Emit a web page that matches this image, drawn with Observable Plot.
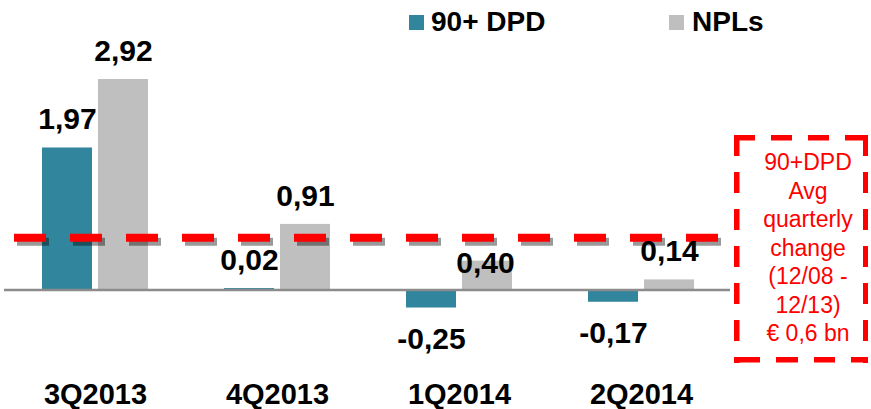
<!DOCTYPE html>
<html>
<head>
<meta charset="utf-8">
<script src="https://cdn.jsdelivr.net/npm/d3@7"></script>
<script src="https://cdn.jsdelivr.net/npm/@observablehq/plot@0.6"></script>
<style>
  html, body { margin: 0; padding: 0; background: #fff; }
  body { font-family: "Liberation Sans", Arial, sans-serif; }
  #wrap { position: relative; width: 871px; height: 409px; overflow: hidden; }
  #legend { position: relative; height: 34px; }
  .sw { position: absolute; top: 15px; width: 15px; height: 15px; }
  .lt { position: absolute; top: 8px; font-size: 28px; font-weight: bold; line-height: 28px; color: #000; white-space: nowrap; }
  #chart svg { display: block; }
  #box {
    position: absolute; left: 734px; top: 134.5px; width: 134px; height: 228px;
    background:
      repeating-linear-gradient(90deg, #ff0000 0 21px, transparent 21px 37px) 0 0 / 100% 5.5px no-repeat,
      repeating-linear-gradient(90deg, transparent 0 5px, #ff0000 5px 26.5px, transparent 26.5px 37.5px) 0 100% / 100% 5.5px no-repeat,
      repeating-linear-gradient(180deg, #ff0000 0 21px, transparent 21px 37px) 0 0 / 5.5px 100% no-repeat,
      repeating-linear-gradient(180deg, #ff0000 0 21px, transparent 21px 37px) 100% 0 / 5.5px 100% no-repeat;
  }
  #boxtext {
    position: absolute; left: 748px; top: 148px; width: 120px;
    text-align: center; color: #ff0000; font-size: 23px; line-height: 28.5px;
    white-space: nowrap;
  }
</style>
</head>
<body>
<div id="wrap">
  <div id="legend"></div>
  <div id="chart"></div>
  <div id="box"></div>
  <div id="boxtext"></div>
</div>
<script>
// ---- data ----
const categories = ["3Q2013", "4Q2013", "1Q2014", "2Q2014"];
const dpdValues = [1.97, 0.02, -0.25, -0.17];
const nplValues = [2.92, 0.91, 0.40, 0.14];
const seriesNames = ["90+ DPD", "NPLs"];
const avgChange = 0.725; // position of the dashed average line as drawn
const noteLines = ["90+DPD", "Avg", "quarterly", "change", "(12/08 -", "12/13)", "€ 0,6 bn"];

// ---- styles ----
const teal = "#31859c";
const grey = "#bfbfbf";
const font = "Liberation Sans, Arial, sans-serif";

const rows = categories.map((c, i) => ({cat: c, dpd: dpdValues[i], npl: nplValues[i]}));
const fmt = v => v.toFixed(2).replace(".", ",");

// legend
const legend = document.getElementById("legend");
[[seriesNames[0], teal, 409, 431], [seriesNames[1], grey, 669, 692]].forEach(([name, col, sx, tx]) => {
  const s = document.createElement("div");
  s.className = "sw"; s.style.left = sx + "px"; s.style.background = col;
  legend.appendChild(s);
  const t = document.createElement("div");
  t.className = "lt"; t.style.left = tx + "px"; t.textContent = name;
  legend.appendChild(t);
});

// note box text
document.getElementById("boxtext").innerHTML = noteLines.map(l => `<div>${l}</div>`).join("");

const textBase = {fontFamily: font, fontWeight: "bold", fill: "#000", lineAnchor: "bottom"};

const chart = Plot.plot({
  width: 871,
  height: 375,
  marginLeft: 4,
  marginRight: 139,
  marginTop: 0,
  marginBottom: 0,
  style: {fontFamily: font, background: "transparent", overflow: "visible"},
  x: {type: "band", domain: categories, padding: 0, axis: null},
  y: {domain: [0, 2.92], range: [255.5, 45], axis: null},
  marks: [
    Plot.barY(rows, {x: "cat", y: "dpd", fill: teal, insetLeft: 38, insetRight: 94}),
    Plot.barY(rows, {x: "cat", y: "npl", fill: grey, insetLeft: 94, insetRight: 38}),
    Plot.ruleY([0], {stroke: "#8c8c8c", strokeWidth: 2.3, insetRight: 2}),
    Plot.ruleY([avgChange], {stroke: "#000", strokeOpacity: 0.4, strokeWidth: 8, strokeDasharray: "32,24", insetLeft: 10, insetRight: 14, dx: 3, dy: 4, ariaLabel: "avg-shadow"}),
    Plot.ruleY([avgChange], {stroke: "#ff0000", strokeWidth: 8, strokeDasharray: "32,24", insetLeft: 10, insetRight: 14}),
    // 90+ DPD labels
    Plot.text(rows.filter(d => d.dpd >= 0), {...textBase, x: "cat", y: "dpd", text: d => fmt(d.dpd), dx: -28, dy: -18.5, fontSize: 30}),
    Plot.text(rows.filter(d => d.dpd < 0), {...textBase, x: "cat", y: "dpd", text: d => fmt(d.dpd), dx: -28, dy: 41, fontSize: 30}),
    // NPL labels
    Plot.text(rows.filter(d => d.cat !== "1Q2014"), {...textBase, x: "cat", y: "npl", text: d => fmt(d.npl), dx: 28, dy: -18.5, fontSize: 30}),
    Plot.text(rows.filter(d => d.cat === "1Q2014"), {...textBase, x: "cat", y: "npl", text: d => fmt(d.npl), dx: 26, dy: 12, fontSize: 30}),
    // category labels
    Plot.text(categories, {...textBase, x: d => d, frameAnchor: "bottom", dy: -6, fontSize: 29})
  ]
});

// soft shadow under the dashed line
const svg = d3.select(chart);
const defs = svg.insert("defs", ":first-child");
defs.append("filter").attr("id", "soft").attr("x", "-10%").attr("y", "-100%").attr("width", "120%").attr("height", "300%")
  .append("feGaussianBlur").attr("stdDeviation", 2);
svg.select('g[aria-label="avg-shadow"]').attr("filter", "url(#soft)");

document.getElementById("chart").appendChild(chart);
</script>
</body>
</html>
